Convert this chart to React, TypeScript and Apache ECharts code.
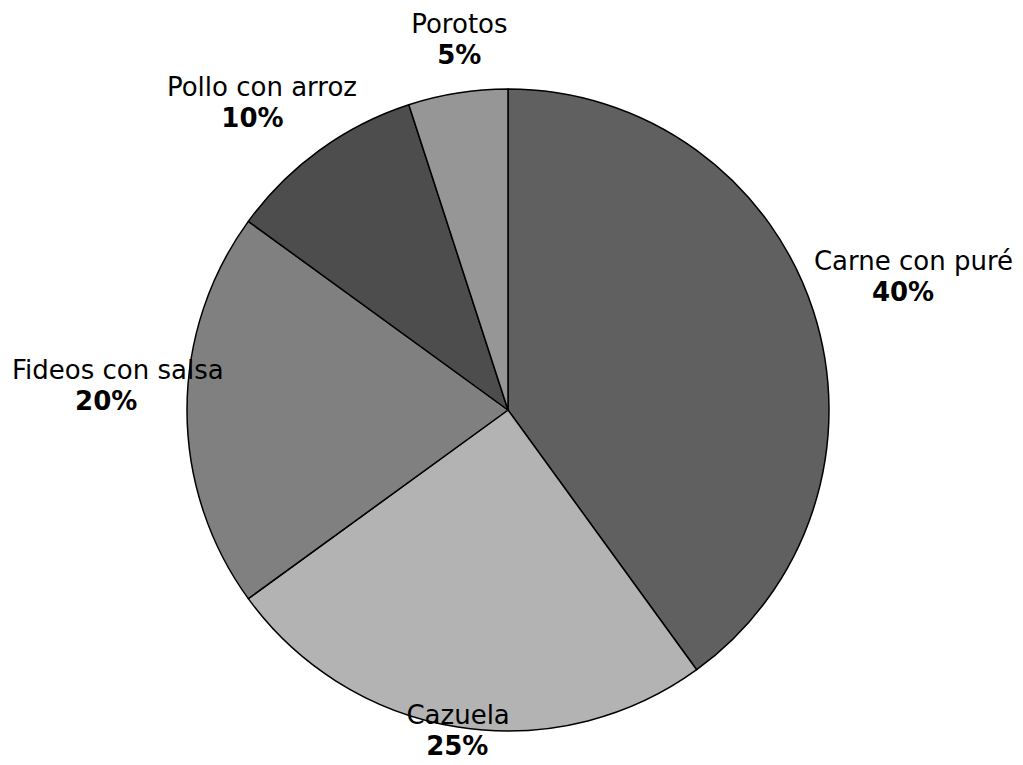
import React, { useEffect, useRef } from "react";
import * as echarts from "echarts";

const categories = ["Carne con puré", "Cazuela", "Fideos con salsa", "Pollo con arroz", "Porotos"];
const values = [40, 25, 20, 10, 5];
const colors = ["#606060", "#b3b3b3", "#808080", "#4d4d4d", "#969696"];

const W = 1023;
const H = 765;
const CX = 508;
const CY = 410;
const R = 321;
const SHIFT = -25;
const FONT = "DejaVu Sans";

function measure(text: string): number {
  const c = document.createElement("canvas").getContext("2d");
  if (!c) return text.length * 14;
  c.font = `26px "${FONT}"`;
  return c.measureText(text).width;
}

export default function App() {
  const ref = useRef<HTMLDivElement>(null);
  useEffect(() => {
    document.body.style.margin = "0";
    const chart = echarts.init(ref.current!, null, { renderer: "svg" });
    const total = values.reduce((a, b) => a + b, 0);
    const mids: number[] = [];
    let cum = 0;
    values.forEach((v) => {
      mids.push(((cum + v / 2) / total) * Math.PI * 2);
      cum += v;
    });
    chart.setOption({
      animation: false,
      backgroundColor: "#ffffff",
      series: [
        {
          type: "pie",
          center: [CX, CY],
          radius: R,
          startAngle: 90,
          clockwise: true,
          avoidLabelOverlap: false,
          data: categories.map((c, i) => {
            const pad = Math.max(0, (measure(c) - 95) * 0.2);
            return {
              name: c,
              value: values[i],
              itemStyle: { color: colors[i] },
              label: { rich: { p: { padding: [0, pad, 0, 0] } } },
            };
          }),
          itemStyle: { borderColor: "#000000", borderWidth: 1.5 },
          emphasis: { disabled: true },
          labelLine: { show: false },
          label: {
            show: true,
            position: "outside",
            formatter: (p: any) => `{n|${p.name}}\n{p|${Math.round(p.percent)}%}`,
            rich: {
              n: { fontFamily: FONT, fontSize: 26, color: "#000", lineHeight: 31, align: "center" },
              p: { fontFamily: FONT, fontSize: 26, fontWeight: "bold", color: "#000", lineHeight: 31, align: "center" },
            },
          },
          labelLayout: (params: any) => {
            const t = mids[params.dataIndex];
            const s = Math.sin(t);
            const mc = -Math.cos(t);
            const w = params.labelRect.width;
            const h = params.labelRect.height;
            let x = CX + s * (200 + 2.3 * (w / 2));
            const y = CY + R * mc + (h / 2) * mc + SHIFT;
            if (x - w / 2 < 12) x = 12 + w / 2;
            if (x + w / 2 > W - 10) x = W - 10 - w / 2;
            return { x, y, align: "center", verticalAlign: "middle" };
          },
        },
      ],
    });
    return () => chart.dispose();
  }, []);
  return <div ref={ref} style={{ width: W, height: H }} />;
}
